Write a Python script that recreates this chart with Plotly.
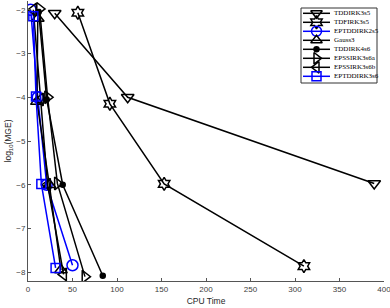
import plotly.graph_objects as go

names = ["TDDIRK3s5", "TDFIRK3s5", "EPTDDIRK2s5", "Gauss3", "TDDIRK4s6",
         "EPSSIRK3s6a", "EPSSIRK3s6b", "EPTDDIRK3s6"]

x_TDDIRK3s5 = [30, 112, 389]
y_TDDIRK3s5 = [-2.08, -4.0, -5.97]
x_TDFIRK3s5 = [56, 92, 153, 310]
y_TDFIRK3s5 = [-2.07, -4.15, -5.98, -7.86]
x_EPTDDIRK2s5 = [3, 11, 21, 50]
y_EPTDDIRK2s5 = [-2.0, -4.0, -6.0, -7.84]
x_Gauss3 = [11, 10, 24, 37]
y_Gauss3 = [-2.2, -4.1, -6.0, -7.95]
x_TDDIRK4s6 = [12, 21, 39, 84]
y_TDDIRK4s6 = [-2.05, -4.05, -6.0, -8.08]
x_EPSSIRK3s6a = [13, 22, 33, 64]
y_EPSSIRK3s6a = [-1.98, -4.0, -5.97, -8.1]
x_EPSSIRK3s6b = [6, 14, 22, 40]
y_EPSSIRK3s6b = [-2.0, -4.05, -6.0, -8.05]
x_EPTDDIRK3s6 = [6, 9, 15, 31]
y_EPTDDIRK3s6 = [-2.15, -3.98, -5.98, -7.9]

xs = [x_TDDIRK3s5, x_TDFIRK3s5, x_EPTDDIRK2s5, x_Gauss3, x_TDDIRK4s6,
      x_EPSSIRK3s6a, x_EPSSIRK3s6b, x_EPTDDIRK3s6]
ys = [y_TDDIRK3s5, y_TDFIRK3s5, y_EPTDDIRK2s5, y_Gauss3, y_TDDIRK4s6,
      y_EPSSIRK3s6a, y_EPSSIRK3s6b, y_EPTDDIRK3s6]
symbols = ["triangle-down-open", "hexagram-open", "circle-open", "triangle-up-open",
           "circle", "triangle-right-open", "triangle-left-open", "square-open"]
sizes = [11, 10, 11, 11, 5, 11, 11, 9]
colors = ["black", "black", "#0000ff", "black", "black", "black", "black", "#0000ff"]

x_ticks = [0, 50, 100, 150, 200, 250, 300, 350, 400]
y_ticks = [-8, -7, -6, -5, -4, -3, -2]

fig = go.Figure()
for n, x, y, s, sz, c in zip(names, xs, ys, symbols, sizes, colors):
    fig.add_trace(go.Scatter(
        x=x, y=y, name=n, mode="lines+markers", showlegend=False,
        line=dict(color=c, width=1.5),
        marker=dict(symbol=s, size=sz, color=c, line=dict(color=c, width=1.5)),
    ))

# ---- hand-built legend on an overlay axis measured in screen pixels ----
PL, PR, PT, PB = 28, 384, 1, 281
L_X0, L_X1, L_Y0, L_Y1 = 301, 377, 8, 83
fig.add_trace(go.Scatter(
    x=[L_X0, L_X1, L_X1, L_X0, L_X0], y=[L_Y0, L_Y0, L_Y1, L_Y1, L_Y0],
    mode="lines", fill="toself", fillcolor="white",
    line=dict(color="#333333", width=1), showlegend=False, hoverinfo="skip",
    xaxis="x2", yaxis="y2"))
for i, (n, s, sz, c) in enumerate(zip(names, symbols, sizes, colors)):
    yy = 13.3 + 9.0 * i
    fig.add_trace(go.Scatter(
        x=[303, 330], y=[yy, yy], mode="lines", line=dict(color=c, width=1.5),
        showlegend=False, hoverinfo="skip", xaxis="x2", yaxis="y2"))
    fig.add_trace(go.Scatter(
        x=[316.5], y=[yy], mode="markers",
        marker=dict(symbol=s, size=min(sz, 10), color=c, line=dict(color=c, width=1.5)),
        showlegend=False, hoverinfo="skip", xaxis="x2", yaxis="y2"))
    fig.add_annotation(x=332, y=yy, xref="x2", yref="y2", text=n, showarrow=False,
                       xanchor="left", yanchor="middle",
                       font=dict(family="Liberation Serif", size=7, color="black"))

axis_common = dict(
    showgrid=False, zeroline=False, showline=True, linecolor="#555555", linewidth=1,
    ticks="inside", ticklen=3, tickcolor="#555555", tickwidth=1, automargin=False,
    ticklabeloverflow="allow",
    tickfont=dict(family="Liberation Sans", size=8, color="#404040"),
)
fig.update_layout(
    xaxis=dict(range=[0, 400], tickvals=x_ticks, **axis_common,
               title=dict(text="CPU Time", standoff=5,
                          font=dict(family="Liberation Sans", size=8.5, color="#262626"))),
    yaxis=dict(range=[-8.2, -1.8], tickvals=y_ticks, **axis_common,
               title=dict(text="log<sub>10</sub>(MGE)", standoff=3,
                          font=dict(family="Liberation Sans", size=8.5, color="#262626"))),
    xaxis2=dict(range=[PL, PR], overlaying="x", anchor="y2", visible=False, fixedrange=True),
    yaxis2=dict(range=[PB, PT], overlaying="y", anchor="x2", visible=False, fixedrange=True),
    width=390, height=308,
    margin=dict(l=PL, r=390 - PR, t=PT, b=308 - PB),
    plot_bgcolor="white", paper_bgcolor="white",
    showlegend=False,
)
fig.write_html("out.html", config={"displayModeBar": False},
               post_script="document.body.style.margin='0';")
